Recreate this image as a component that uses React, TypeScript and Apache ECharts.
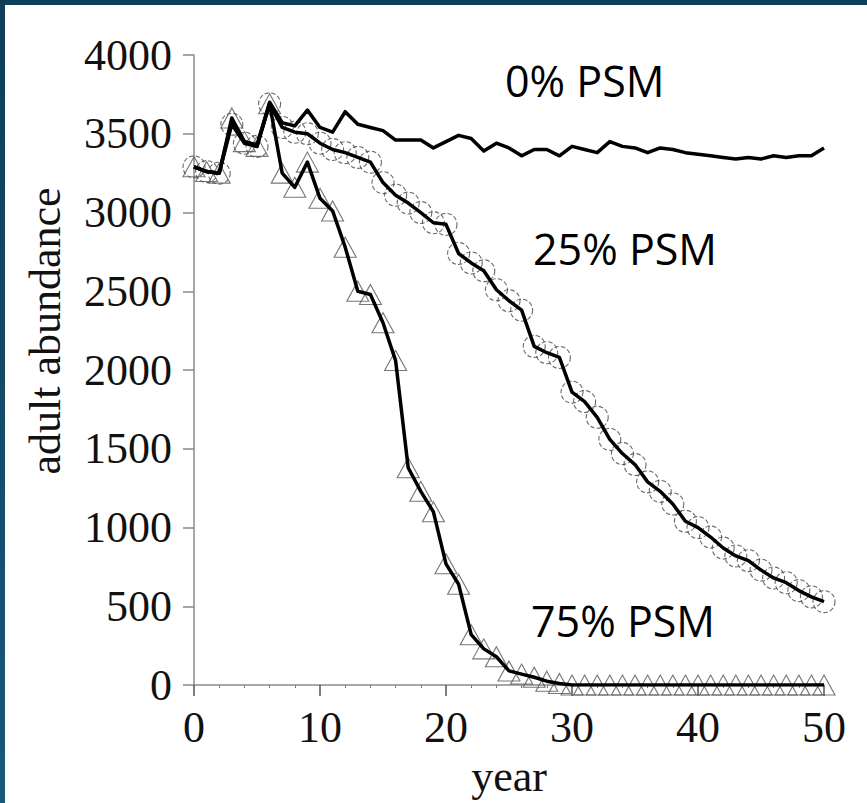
import React, { useEffect, useRef } from "react";
import * as echarts from "echarts";

const years: number[] = [
  0, 1, 2, 3, 4, 5, 6, 7, 8, 9, 10, 11, 12, 13, 14, 15, 16, 17, 18, 19, 20, 21, 22, 23, 24, 25,
  26, 27, 28, 29, 30, 31, 32, 33, 34, 35, 36, 37, 38, 39, 40, 41, 42, 43, 44, 45, 46, 47, 48, 49, 50,
];

const psm0: number[] = [
  3290, 3260, 3250, 3580, 3450, 3430, 3700, 3570, 3550, 3650, 3540, 3510, 3640, 3560, 3540, 3520,
  3460, 3460, 3460, 3410, 3450, 3490, 3470, 3390, 3440, 3410, 3360, 3400, 3400, 3360, 3420, 3400,
  3380, 3450, 3420, 3410, 3380, 3410, 3400, 3380, 3370, 3360, 3350, 3340, 3350, 3340, 3360, 3350,
  3360, 3360, 3410,
];

const psm25: number[] = [
  3290, 3260, 3250, 3560, 3440, 3420, 3690, 3540, 3510, 3500, 3440, 3400, 3380, 3350, 3320, 3190,
  3110, 3060, 3000, 2935, 2925, 2740, 2680, 2630, 2510, 2440, 2380, 2150, 2110, 2080, 1860, 1800,
  1700, 1560, 1470, 1400, 1290, 1230, 1150, 1040, 1000, 940, 870, 820, 790, 730, 680, 650, 600, 560,
  530,
];

const psm75: number[] = [
  3290, 3260, 3250, 3600, 3450, 3420, 3690, 3250, 3160, 3320, 3090, 3010, 2780, 2500, 2480, 2300,
  2060, 1380, 1230, 1100, 770, 640, 320, 230, 180, 90, 70, 50, 25, 10, 0, 0, 0, 0, 0, 0, 0, 0, 0,
  0, 0, 0, 0, 0, 0, 0, 0, 0, 0, 0, 0,
];

const yTicks = { min: 0, max: 4000, interval: 500 };
const xTicks = { min: 0, max: 50, interval: 10 };

const labels = ["0% PSM", "25% PSM", "75% PSM"];
const xName = "year";
const yName = "adult abundance";

const pairs = (vals: number[]) => years.map((y, i) => [y, vals[i]]);

export default function App() {
  const ref = useRef<HTMLDivElement>(null);
  useEffect(() => {
    if (!ref.current) return;
    const chart = echarts.init(ref.current, null, { renderer: "svg" });
    const serif = "'Liberation Serif', 'Times New Roman', serif";
    const sans = "'Open Sans', 'Noto Sans', sans-serif";
    const axisGray = "#8a8a8a";
    chart.setOption({
      animation: false,
      backgroundColor: "#ffffff",
      grid: { left: 194, right: 43, top: 55, bottom: 115, containLabel: false },
      xAxis: {
        type: "value",
        min: xTicks.min,
        max: xTicks.max,
        interval: xTicks.interval,
        name: xName,
        nameLocation: "middle",
        nameGap: 49,
        nameTextStyle: { fontFamily: serif, fontSize: 44, color: "#111" },
        axisLine: { show: true, onZero: true, lineStyle: { color: axisGray, width: 1.5 } },
        axisTick: { show: true, inside: false, length: 11, lineStyle: { color: "#555", width: 1.5 } },
        minorTick: { show: true, splitNumber: 5, length: 3, lineStyle: { color: "#777" } },
        axisLabel: {
          fontFamily: serif,
          fontSize: 44,
          color: "#111",
          margin: 20,
          formatter: (v: number) => String(v),
        },
        splitLine: { show: false },
      },
      yAxis: {
        type: "value",
        min: yTicks.min,
        max: yTicks.max,
        interval: yTicks.interval,
        axisLine: { show: true, lineStyle: { color: axisGray, width: 1.5 } },
        axisTick: { show: true, inside: false, length: 11, lineStyle: { color: axisGray, width: 1.5 } },
        axisLabel: {
          fontFamily: serif,
          fontSize: 44,
          color: "#111",
          margin: 22,
          formatter: (v: number) => String(v),
        },
        splitLine: { show: false },
      },
      series: [
        {
          name: "25% markers",
          type: "scatter",
          data: pairs(psm25),
          symbol: "circle",
          symbolSize: 22,
          itemStyle: {
            color: "rgba(0,0,0,0)",
            borderColor: "#444",
            borderWidth: 1.1,
            borderType: "dashed",
          },
          z: 2,
          silent: true,
        },
        {
          name: "75% markers",
          type: "scatter",
          data: pairs(psm75),
          symbol: "triangle",
          symbolSize: [22, 20],
          itemStyle: {
            color: "rgba(0,0,0,0)",
            borderColor: "#555",
            borderWidth: 1.1,
          },
          z: 2,
          silent: true,
        },
        {
          name: labels[2],
          type: "line",
          data: pairs(psm75),
          showSymbol: false,
          lineStyle: { color: "#000", width: 3.5, join: "round" },
          z: 3,
        },
        {
          name: labels[1],
          type: "line",
          data: pairs(psm25),
          showSymbol: false,
          lineStyle: { color: "#000", width: 3.5, join: "round" },
          z: 3,
        },
        {
          name: labels[0],
          type: "line",
          data: pairs(psm0),
          showSymbol: false,
          lineStyle: { color: "#000", width: 3.5, join: "round" },
          z: 3,
        },
      ],
      graphic: [
        {
          type: "rect",
          shape: { x: 0, y: 0, width: 867, height: 5 },
          style: { fill: "#103f5a" },
          z: 10,
        },
        {
          type: "rect",
          shape: { x: 0, y: 0, width: 5, height: 803 },
          style: {
            fill: new echarts.graphic.LinearGradient(0, 0, 0, 1, [
              { offset: 0, color: "#103d58" },
              { offset: 1, color: "#17587a" },
            ]),
          },
          z: 10,
        },
        {
          type: "text",
          x: 45,
          y: 331,
          rotation: Math.PI / 2,
          style: {
            text: yName,
            font: `44px ${serif}`,
            fill: "#111",
            textAlign: "center",
            textVerticalAlign: "middle",
          },
          z: 10,
        },
        {
          type: "text",
          x: 505,
          y: 80,
          style: { text: labels[0], font: `43px ${sans}`, fill: "#000", textAlign: "left", textVerticalAlign: "middle" },
          z: 10,
        },
        {
          type: "text",
          x: 533,
          y: 248,
          style: { text: labels[1], font: `43px ${sans}`, fill: "#000", textAlign: "left", textVerticalAlign: "middle" },
          z: 10,
        },
        {
          type: "text",
          x: 531,
          y: 620,
          style: { text: labels[2], font: `43px ${sans}`, fill: "#000", textAlign: "left", textVerticalAlign: "middle" },
          z: 10,
        },
      ],
    });
    return () => chart.dispose();
  }, []);
  return (
    <div
      ref={ref}
      style={{ position: "fixed", left: 0, top: 0, width: 867, height: 803, background: "#fff" }}
    />
  );
}
